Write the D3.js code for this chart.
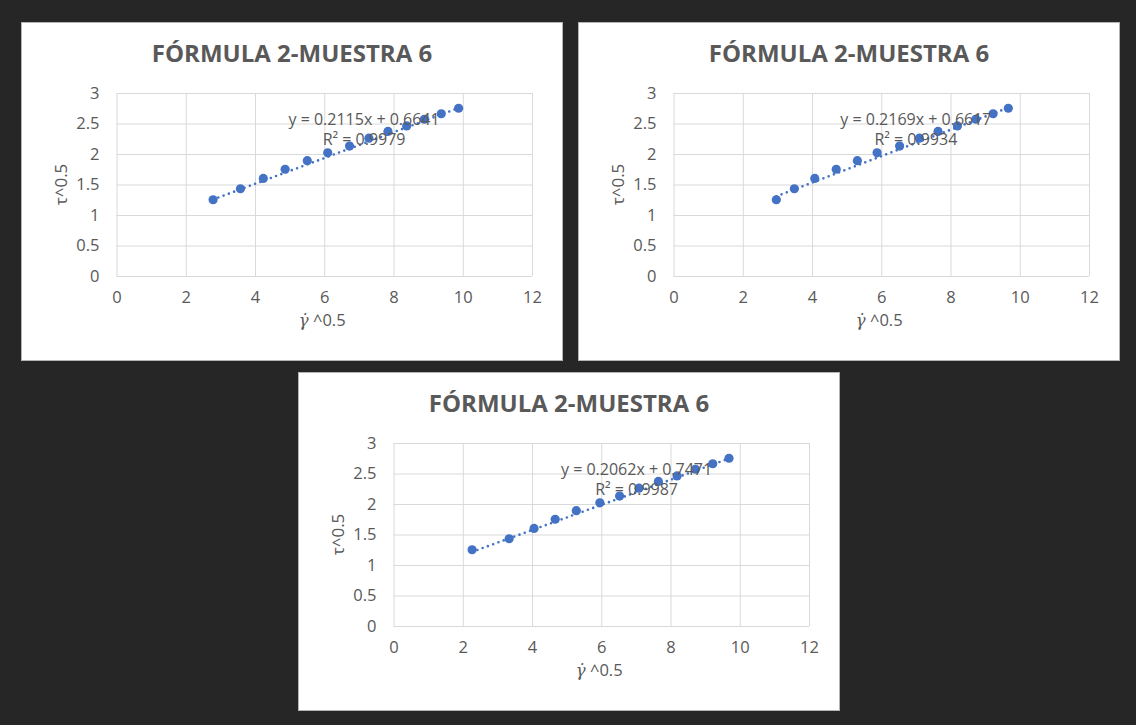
<!DOCTYPE html>
<html>
<head>
<meta charset="utf-8">
<script src="https://cdnjs.cloudflare.com/ajax/libs/d3/7.8.5/d3.min.js"></script>
<style>
  body { margin: 0; background: #262626; }
  svg { display: block; }
  .tick text { font-family: 'Open Sans', sans-serif; font-size: 16.5px; fill: #595959; }
</style>
</head>
<body>
<div id="charts"></div>
<script>
// Data (same sample, three formulas)
var chartTitle = 'FÓRMULA 2-MUESTRA 6';

// tau^0.5 is the same in all three charts
var tauValues = [1.25, 1.43, 1.60, 1.75, 1.89, 2.02, 2.13, 2.26, 2.37, 2.46, 2.57, 2.66, 2.75];

// shear rate^0.5 for each chart
var gammaChart1 = [2.79, 3.58, 4.24, 4.87, 5.51, 6.10, 6.73, 7.29, 7.84, 8.38, 8.89, 9.38, 9.88];
var gammaChart2 = [2.97, 3.49, 4.08, 4.70, 5.31, 5.88, 6.53, 7.10, 7.64, 8.20, 8.73, 9.23, 9.67];
var gammaChart3 = [2.27, 3.34, 4.06, 4.67, 5.28, 5.96, 6.53, 7.09, 7.65, 8.19, 8.72, 9.22, 9.69];

// trendline equations shown on each chart
var slopes = [0.2115, 0.2169, 0.2062];
var intercepts = [0.6641, 0.6617, 0.7471];
var rSquared = ['0.9979', '0.9934', '0.9987'];

var xTicks = [0, 2, 4, 6, 8, 10, 12];
var yTicks = [0, 0.5, 1, 1.5, 2, 2.5, 3];

// Layout
var svgWidth = 1136;
var svgHeight = 725;
var panelWidth = 542;
var panelHeight = 339;
var panelOrigins = [[21, 22], [578, 22], [298, 372]];
// where the equation label sits (in data units)
var labelAnchors = [[7.15, 2.48], [7.0, 2.48], [7.02, 2.47]];

var chartMargin = { top: 71, right: 31, bottom: 85, left: 95.5 };
var chartWidth = panelWidth - chartMargin.left - chartMargin.right;
var chartHeight = panelHeight - chartMargin.top - chartMargin.bottom;

var blue = '#4472C4';
var textGray = '#595959';
var gridGray = '#d9d9d9';

var svg = d3.select('#charts')
  .append('svg')
  .attr('width', svgWidth)
  .attr('height', svgHeight);

svg.append('rect')
  .attr('width', svgWidth)
  .attr('height', svgHeight)
  .attr('fill', '#262626');

var xScale = d3.scaleLinear().domain([0, 12]).range([0, chartWidth]);
var yScale = d3.scaleLinear().domain([0, 3]).range([chartHeight, 0]);

function drawChart(i, gammaValues) {
  var points = gammaValues.map(function(g, j) {
    return { x: g, y: tauValues[j] };
  });

  var panel = svg.append('g')
    .attr('transform', `translate(${panelOrigins[i][0]}, ${panelOrigins[i][1]})`);

  panel.append('rect')
    .attr('x', 0.5)
    .attr('y', 0.5)
    .attr('width', panelWidth - 1)
    .attr('height', panelHeight - 1)
    .attr('fill', '#ffffff')
    .attr('stroke', '#b4b4b4');

  panel.append('text')
    .attr('x', panelWidth / 2)
    .attr('y', 40)
    .attr('text-anchor', 'middle')
    .attr('font-family', "'Open Sans', sans-serif")
    .attr('font-weight', 700)
    .attr('font-size', '24px')
    .attr('fill', textGray)
    .text(chartTitle);

  var chartGroup = panel.append('g')
    .attr('transform', `translate(${chartMargin.left}, ${chartMargin.top})`);

  // gridlines + tick labels
  var xAxis = d3.axisBottom(xScale)
    .tickValues(xTicks)
    .tickSize(-chartHeight)
    .tickPadding(15)
    .tickFormat(d3.format('d'));

  var yAxis = d3.axisLeft(yScale)
    .tickValues(yTicks)
    .tickSize(-chartWidth)
    .tickPadding(17)
    .tickFormat(function(d) { return String(d); });

  var gx = chartGroup.append('g')
    .attr('transform', `translate(0, ${chartHeight})`)
    .call(xAxis);
  var gy = chartGroup.append('g').call(yAxis);

  [gx, gy].forEach(function(g) {
    g.select('.domain').remove();
    g.selectAll('.tick line').attr('stroke', gridGray).attr('stroke-width', 1);
  });

  // axis titles
  var xTitle = chartGroup.append('text')
    .attr('x', chartWidth / 2 - 2)
    .attr('y', chartHeight + 50)
    .attr('text-anchor', 'middle')
    .attr('font-family', "'Open Sans', sans-serif")
    .attr('font-size', '16.5px')
    .attr('fill', textGray);
  xTitle.append('tspan')
    .attr('font-family', "'DejaVu Serif', serif")
    .attr('font-style', 'italic')
    .text('γ\u0307');
  xTitle.append('tspan').text(' ^0.5');

  chartGroup.append('text')
    .attr('transform', `translate(-50, ${chartHeight / 2}) rotate(-90)`)
    .attr('text-anchor', 'middle')
    .attr('font-family', "'Open Sans', sans-serif")
    .attr('font-size', '17px')
    .attr('fill', textGray)
    .text('τ^0.5');

  // markers
  chartGroup.selectAll('circle')
    .data(points)
    .enter()
    .append('circle')
    .attr('cx', d => xScale(d.x))
    .attr('cy', d => yScale(d.y))
    .attr('r', 4.6)
    .attr('fill', blue);

  // dotted linear trendline over the data range
  var xMin = d3.min(gammaValues);
  var xMax = d3.max(gammaValues);
  var trend = [xMin, xMax].map(function(x) {
    return { x: x, y: slopes[i] * x + intercepts[i] };
  });

  chartGroup.append('path')
    .datum(trend)
    .attr('d', d3.line().x(d => xScale(d.x)).y(d => yScale(d.y)))
    .attr('fill', 'none')
    .attr('stroke', blue)
    .attr('stroke-width', 2.6)
    .attr('stroke-linecap', 'round')
    .attr('stroke-dasharray', '0,5.6');

  // equation label
  var lx = xScale(labelAnchors[i][0]);
  var ly = yScale(labelAnchors[i][1]);
  var label = chartGroup.append('text')
    .attr('text-anchor', 'middle')
    .attr('font-family', "'Open Sans', sans-serif")
    .attr('font-size', '16px')
    .attr('fill', textGray);

  label.append('tspan')
    .attr('x', lx)
    .attr('y', ly)
    .text(`y = ${slopes[i]}x + ${intercepts[i]}`);
  label.append('tspan')
    .attr('x', lx)
    .attr('y', ly + 20)
    .text(`R² = ${rSquared[i]}`);
}

drawChart(0, gammaChart1);
drawChart(1, gammaChart2);
drawChart(2, gammaChart3);
</script>
</body>
</html>
